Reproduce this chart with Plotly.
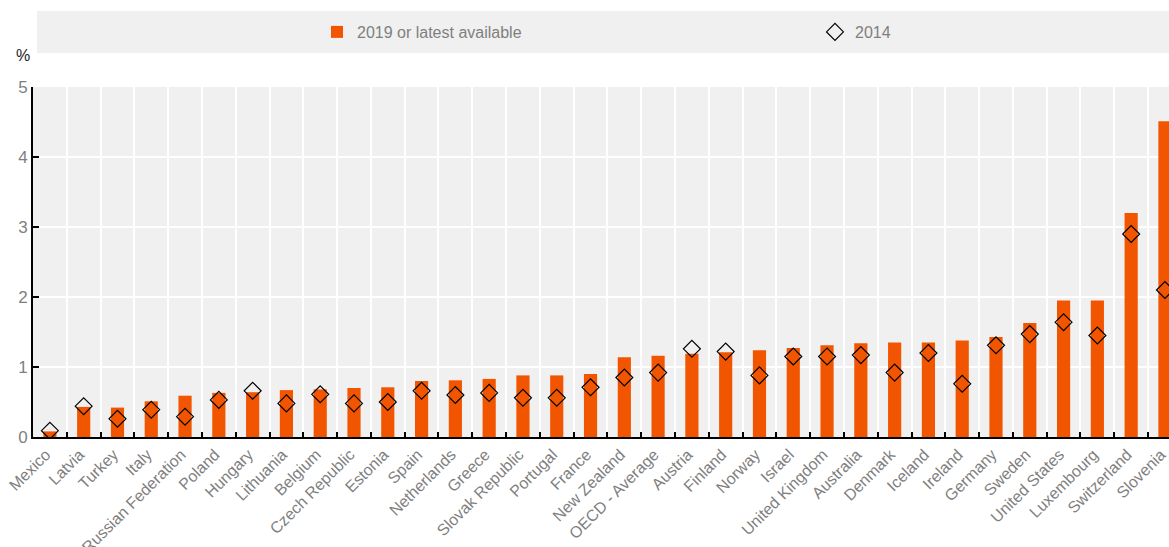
import plotly.graph_objects as go

countries = ["Mexico", "Latvia", "Turkey", "Italy", "Russian Federation", "Poland", "Hungary",
             "Lithuania", "Belgium", "Czech Republic", "Estonia", "Spain", "Netherlands", "Greece",
             "Slovak Republic", "Portugal", "France", "New Zealand", "OECD - Average", "Austria",
             "Finland", "Norway", "Israel", "United Kingdom", "Australia", "Denmark", "Iceland",
             "Ireland", "Germany", "Sweden", "United States", "Luxembourg", "Switzerland", "Slovenia"]

values_2019 = [0.08, 0.43, 0.42, 0.51, 0.59, 0.63, 0.64, 0.67, 0.68, 0.70, 0.71, 0.80, 0.81, 0.83,
               0.88, 0.88, 0.90, 1.14, 1.16, 1.19, 1.21, 1.24, 1.27, 1.31, 1.34, 1.35, 1.35, 1.38,
               1.43, 1.63, 1.95, 1.95, 3.20, 4.51]

values_2014 = [0.09, 0.44, 0.26, 0.39, 0.29, 0.53, 0.66, 0.48, 0.61, 0.48, 0.50, 0.66, 0.60, 0.63,
               0.56, 0.56, 0.71, 0.85, 0.92, 1.26, 1.22, 0.88, 1.15, 1.15, 1.17, 0.92, 1.20, 0.76,
               1.31, 1.47, 1.64, 1.45, 2.90, 2.10]

y_ticks = [0, 1, 2, 3, 4, 5]

FONT = "Liberation Sans, Arial, sans-serif"
GREY = "#7f7f7f"
ORANGE = "#F25500"

fig = go.Figure()
fig.add_trace(go.Bar(
    x=countries, y=values_2019, name="2019 or latest available",
    marker=dict(color=ORANGE, line=dict(width=0)), width=0.39,
    legend="legend",
))
fig.add_trace(go.Scatter(
    x=countries, y=values_2014, name="2014", mode="markers",
    marker=dict(symbol="diamond-open", size=13, color="black", line=dict(width=1.2)),
    legend="legend2",
))

W, H = 1169, 547
L, R, T, B = 33, 0, 87, 110
pw = W - L - R
ph = H - T - B

def px_x(px):
    return (px - L) / pw

def py(px):
    return (H - B - px) / ph

legend_common = dict(
    orientation="h", xanchor="left", yanchor="middle", y=py(32),
    bgcolor="rgba(0,0,0,0)", font=dict(family=FONT, size=16, color=GREY),
)

fig.update_layout(
    width=W, height=H,
    margin=dict(l=L, r=R, t=T, b=B, autoexpand=False),
    paper_bgcolor="white",
    plot_bgcolor="#f0f0f0",
    font=dict(family=FONT, size=16, color=GREY),
    showlegend=True,
    legend=dict(x=px_x(317), **legend_common),
    legend2=dict(x=px_x(815), **legend_common),
    xaxis=dict(
        type="category", range=[-0.5, 33.12],
        tickson="boundaries", ticks="inside", ticklen=5, tickwidth=2, tickcolor="black",
        showgrid=True, gridcolor="white", gridwidth=2,
        showline=True, linecolor="black", linewidth=2,
        tickangle=-45, tickfont=dict(family=FONT, size=16, color=GREY),
        ticklabelshift=-4,
        automargin=False,
    ),
    yaxis=dict(
        range=[0, 5], tickvals=y_ticks, ticktext=[str(v) for v in y_ticks],
        ticks="inside", ticklen=6, tickwidth=2, tickcolor="black",
        showgrid=True, gridcolor="white", gridwidth=2, zeroline=False,
        showline=True, linecolor="black", linewidth=2,
        tickfont=dict(family=FONT, size=17, color=GREY),
        automargin=False,
    ),
    shapes=[dict(
        type="rect", xref="paper", yref="paper",
        x0=px_x(37), x1=1.0, y0=py(53), y1=py(11),
        fillcolor="#f0f0f0", line=dict(width=0), layer="below",
    )],
    annotations=[dict(
        text="%", xref="paper", yref="paper", x=px_x(23), y=py(55),
        xanchor="center", yanchor="middle", showarrow=False,
        font=dict(family=FONT, size=16, color="#222222"),
    )],
)

fig.write_html(
    "out.html",
    config={"displayModeBar": False},
    post_script="document.body.style.margin='0px';document.body.style.overflow='hidden';",
)
